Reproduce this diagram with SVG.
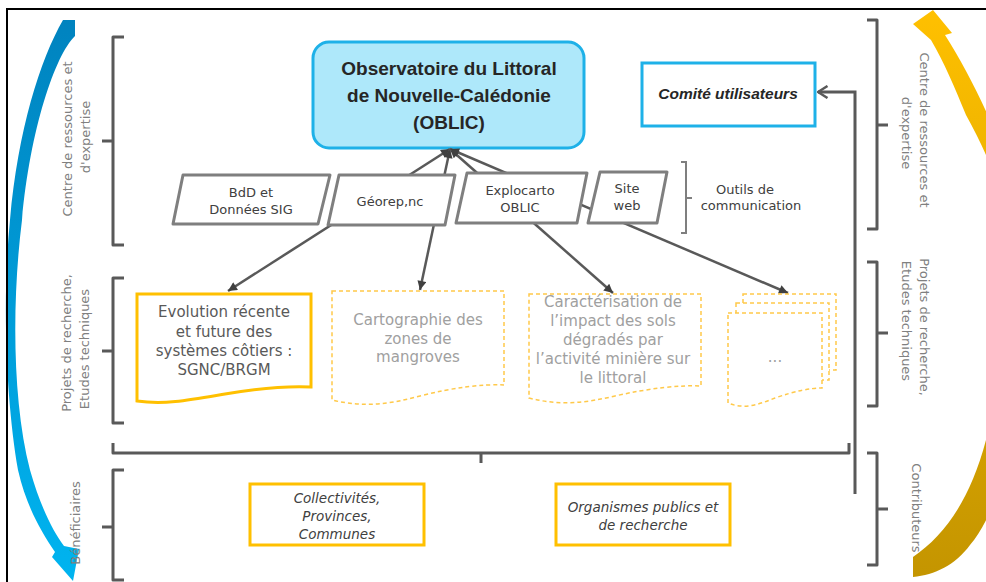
<svg xmlns="http://www.w3.org/2000/svg" width="986" height="582" viewBox="0 0 986 582">
<style>
.br{fill:none;stroke:#595959;stroke-width:3;stroke-linejoin:round}
.br2{fill:none;stroke:#7f7f7f;stroke-width:2}
.side{font-family:"DejaVu Sans",sans-serif;font-size:13px;fill:#808080;text-anchor:middle}
.par{fill:#fff;stroke:#7f7f7f;stroke-width:3;stroke-linejoin:round}
.pt{font-family:"DejaVu Sans",sans-serif;font-size:13px;fill:#404040;text-anchor:middle}
.doc{fill:#fff;stroke:#ffc000;stroke-width:3}
.ddoc{fill:#fff;stroke:#ffc94a;stroke-width:1.5;stroke-dasharray:4 3}
.dt{font-family:"DejaVu Sans",sans-serif;font-size:15px;fill:#595959;text-anchor:middle}
.lt{font-family:"DejaVu Sans",sans-serif;font-size:15px;fill:#a0a0a0;text-anchor:middle}
.ob{font-family:"Liberation Sans",Arial,sans-serif;font-size:19px;font-weight:bold;fill:#262626;text-anchor:middle}
.it{font-family:"DejaVu Sans",sans-serif;font-size:13.5px;font-style:italic;fill:#404040;text-anchor:middle}
.con{fill:none;stroke:#595959;stroke-width:2.5}
</style>
<defs>
<linearGradient id="gb" x1="0" y1="0" x2="0" y2="1">
<stop offset="0" stop-color="#0083bf"/><stop offset="1" stop-color="#00b4f0"/>
</linearGradient>
<linearGradient id="gy" x1="0" y1="0" x2="0" y2="1">
<stop offset="0" stop-color="#ffc000"/><stop offset="1" stop-color="#c49500"/>
</linearGradient>
<marker id="ah" viewBox="0 0 10 10" refX="10" refY="5" markerWidth="11" markerHeight="9" markerUnits="userSpaceOnUse" orient="auto-start-reverse">
<path d="M0,0 L10,5 L0,10 Z" fill="#404040"/>
</marker>
<marker id="oa" viewBox="0 0 12 14" refX="10.5" refY="7" markerWidth="12" markerHeight="14" markerUnits="userSpaceOnUse" orient="auto">
<path d="M1,1 L10.5,7 L1,13" fill="none" stroke="#595959" stroke-width="2.5"/>
</marker>
</defs>
<rect width="986" height="582" fill="#fff"/>

<g id="arc-left">
<path d="M63,20 L75,20 L75,36 C55,55 30,130 22,220 C12,300 12,400 30,470 C40,505 52,530 64,546 L79,549 L73,581 L52,557 L55,552 C40,530 26,505 18,470 C6,400 2,300 10,220 C18,130 40,60 63,20 Z" fill="url(#gb)"/>
</g>
<g id="arc-right">
<path d="M913,557 C945,535 970,500 986,440 C1002,380 1010,300 1005,230 C1000,180 985,150 966,115 C955,88 944,62 931,40 L913,24 L933,10 L952,33 L945,35 C962,62 978,92 992,125 C1010,170 1020,250 1020,320 C1020,430 1000,510 970,545 C955,565 935,575 913,577 Z" fill="url(#gy)"/>
</g>
<path d="M7,582 V9 H986" fill="none" stroke="#000" stroke-width="2"/>

<g id="brackets">
<path class="br" d="M124,37 H113 V245 H124 M113,141 H102"/>
<path class="br" d="M124,278 H113 V423 H124 M113,351 H102"/>
<path class="br" d="M124,470 H113 V580 H124 M113,527 H102"/>
<path class="br" d="M113,443 V453 H849 V443 M481,453 V463"/>
<path class="br" d="M867,20 H877 V229 H867 M877,125 H888"/>
<path class="br" d="M867,262 H877 V406 H867 M877,333 H888"/>
<path class="br" d="M867,453 H877 V565 H867 M877,509 H888"/>
<path class="br2" d="M681,162 H686 V233 H681 M686,198 H692"/>
</g>

<g id="side-labels">
<text class="side" transform="translate(72,139) rotate(-90)">Centre de ressources et</text>
<text class="side" transform="translate(90,137) rotate(-90)">d'expertise</text>
<text class="side" transform="translate(71,343) rotate(-90)">Projets de recherche,</text>
<text class="side" transform="translate(89,349) rotate(-90)">Etudes techniques</text>
<text class="side" transform="translate(80,523) rotate(-90)">Bénéficiaires</text>
<text class="side" transform="translate(920,130) rotate(90)">Centre de ressources et</text>
<text class="side" transform="translate(902,133) rotate(90)">d'expertise</text>
<text class="side" transform="translate(920,327) rotate(90)">Projets de recherche,</text>
<text class="side" transform="translate(902,321) rotate(90)">Etudes techniques</text>
<text class="side" transform="translate(912,508) rotate(90)">Contributeurs</text>
</g>

<g id="oblic">
<rect x="313" y="42" width="271" height="106" rx="16" fill="#aee8fa" stroke="#1eb1e8" stroke-width="3"/>
<text class="ob" x="449" y="75">Observatoire  du Littoral</text>
<text class="ob" x="449" y="102">de Nouvelle-Calédonie</text>
<text class="ob" x="449" y="129">(OBLIC)</text>
</g>

<g id="comite">
<rect x="642" y="63" width="173" height="63" fill="#fff" stroke="#1eb1e8" stroke-width="3"/>
<text x="728" y="99" font-family="'Liberation Sans',Arial,sans-serif" font-size="15.5" font-weight="bold" font-style="italic" fill="#262626" text-anchor="middle">Comité utilisateurs</text>
</g>

<g id="connectors">
<line class="con" x1="450" y1="149" x2="228" y2="291" marker-start="url(#ah)" marker-end="url(#ah)"/>
<line class="con" x1="450" y1="149" x2="420" y2="290" marker-start="url(#ah)" marker-end="url(#ah)"/>
<line class="con" x1="450" y1="149" x2="613" y2="293" marker-start="url(#ah)" marker-end="url(#ah)"/>
<line class="con" x1="450" y1="149" x2="788" y2="293" marker-start="url(#ah)" marker-end="url(#ah)"/>
<polyline fill="none" stroke="#595959" stroke-width="3" points="855,494 855,92 818,92" marker-end="url(#oa)"/>
</g>

<g id="bdd">
<path class="par" d="M183,175 H330 L318,224 H173 Z"/>
<text class="pt" x="251" y="197">BdD et</text>
<text class="pt" x="251" y="214">Données SIG</text>
</g>
<g id="georep">
<path class="par" d="M339,175 H455 L445,225 H328 Z"/>
<text class="pt" x="390" y="206">Géorep,nc</text>
</g>
<g id="explocarto">
<path class="par" d="M467,173 H587 L577,223 H456 Z"/>
<text class="pt" x="520" y="195">Explocarto</text>
<text class="pt" x="520" y="212">OBLIC</text>
</g>
<g id="siteweb">
<path class="par" d="M600,172 H667 L657,223 H588 Z"/>
<text class="pt" x="627" y="193">Site</text>
<text class="pt" x="627" y="210">web</text>
</g>
<g id="outils">
<text class="pt" x="745" y="194">Outils de</text>
<text class="pt" x="751" y="210">communication</text>
</g>

<g id="evolution">
<path class="doc" d="M137,294 H311 V387 C290,386 260,388 225,394 C190,400 165,405 137,401 Z"/>
<text class="dt" x="224" y="317">Evolution récente</text>
<text class="dt" x="224" y="337">et future des</text>
<text class="dt" x="224" y="356">systèmes côtiers :</text>
<text class="dt" x="224" y="375">SGNC/BRGM</text>
</g>
<g id="cartographie">
<path class="ddoc" d="M332,291 H504 V385 C483,384 455,387 420,396 C390,404 365,408 332,400 Z"/>
<text class="lt" x="418" y="325">Cartographie des</text>
<text class="lt" x="418" y="344">zones de</text>
<text class="lt" x="418" y="362">mangroves</text>
</g>
<g id="caracterisation">
<path class="ddoc" d="M529,294 H701 V386 C680,385 650,388 615,396 C585,403 560,406 529,398 Z"/>
<text class="lt" x="613" y="307">Caractérisation de</text>
<text class="lt" x="613" y="326">l’impact des sols</text>
<text class="lt" x="613" y="345">dégradés par</text>
<text class="lt" x="613" y="364">l’activité minière sur</text>
<text class="lt" x="613" y="383">le littoral</text>
</g>
<g id="autres">
<rect class="ddoc" x="743" y="294" width="93" height="76"/>
<rect class="ddoc" x="736" y="303" width="93" height="77"/>
<path class="ddoc" d="M728,313 H822 V388 C810,388 795,391 775,398 C760,404 745,410 728,403 Z"/>
<text class="lt" x="775" y="362">...</text>
</g>

<g id="collectivites">
<rect x="250" y="484" width="174" height="61" fill="#fff" stroke="#ffc000" stroke-width="3"/>
<text class="it" x="337" y="503">Collectivités,</text>
<text class="it" x="337" y="521">Provinces,</text>
<text class="it" x="337" y="539">Communes</text>
</g>
<g id="organismes">
<rect x="556" y="484" width="174" height="61" fill="#fff" stroke="#ffc000" stroke-width="3"/>
<text class="it" x="643" y="512">Organismes publics et</text>
<text class="it" x="643" y="530">de recherche</text>
</g>
</svg>
